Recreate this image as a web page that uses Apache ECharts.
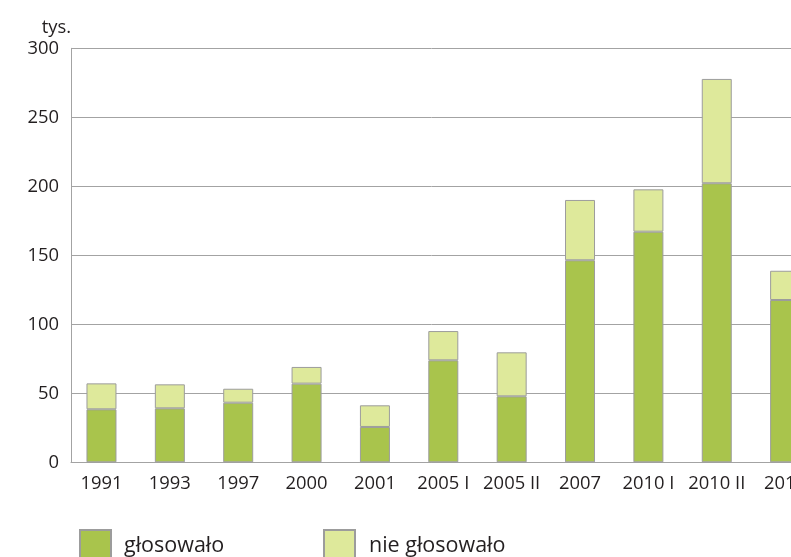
<!DOCTYPE html>
<html>
<head>
<meta charset="utf-8">
<script src="https://cdn.jsdelivr.net/npm/echarts@6/dist/echarts.min.js"></script>
<style>
  html, body { margin: 0; padding: 0; background: #fff; }
  #chart { width: 791px; height: 557px; }
</style>
</head>
<body>
<div id="chart"></div>
<script>
// Voting turnout by election (thousands)
const categories = ['1991', '1993', '1997', '2000', '2001', '2005 I', '2005 II', '2007', '2010 I', '2010 II', '2011'];
const voted =    [38.4, 39.1, 43.2, 57.0, 25.6, 73.9, 47.8, 146.4, 167.1, 202.2, 117.6];
const notVoted = [18.8, 17.4, 10.1, 12.1, 15.7, 21.2, 31.9,  43.7,  30.7,  75.6,  21.2];
const seriesNames = ['głosowało', 'nie głosowało'];
const yMin = 0, yMax = 300, yStep = 50;

const FONT = '"Open Sans", "DejaVu Sans", sans-serif';
const TEXT = '#231f20';
const LINE = '#a3a3a3';
const BORDER = '#9c9c9c';
const GREEN = '#a9c44c';
const LIGHT = '#dee99b';

const chart = echarts.init(document.getElementById('chart'), null, { renderer: 'canvas' });

const plotTop = 48.3, plotHeight = 414;

chart.setOption({
  animation: false,
  backgroundColor: '#fff',
  textStyle: { fontFamily: FONT },
  grid: [
    // frame: y axis, gridlines and baseline
    { left: 71, top: plotTop, width: 760, height: plotHeight, outerBoundsMode: 'none', containLabel: false },
    // bars and category labels (the last column runs past the right edge)
    { left: 67.3, top: plotTop, width: 752, height: plotHeight, outerBoundsMode: 'none', containLabel: false }
  ],
  xAxis: [
    {
      gridIndex: 0, type: 'value', min: 0, max: 1,
      axisLine: { show: true, lineStyle: { color: LINE, width: 1 } },
      axisTick: { show: false }, axisLabel: { show: false }, splitLine: { show: false }
    },
    {
      gridIndex: 1, type: 'category', data: categories,
      axisLine: { show: false }, axisTick: { show: false },
      axisLabel: { interval: 0, margin: 12, color: TEXT, fontSize: 18.4, fontFamily: FONT, hideOverlap: false }
    }
  ],
  yAxis: [
    {
      gridIndex: 0, type: 'value', min: yMin, max: yMax, interval: yStep,
      name: 'tys.', nameLocation: 'end', nameGap: 12,
      nameTextStyle: { color: TEXT, fontSize: 18.4, fontFamily: FONT, align: 'right', verticalAlign: 'bottom' },
      axisLine: { show: true, lineStyle: { color: LINE, width: 1 } },
      axisTick: { show: false },
      axisLabel: { margin: 12, color: TEXT, fontSize: 18.4, fontFamily: FONT },
      splitLine: { show: true, lineStyle: { color: LINE, width: 1 } }
    },
    { gridIndex: 1, type: 'value', min: yMin, max: yMax, show: false }
  ],
  legend: [
    {
      left: 79, top: 529, padding: 0, itemWidth: 31, itemHeight: 32, icon: 'rect',
      data: [seriesNames[0]],
      textStyle: { color: TEXT, fontSize: 21.5, fontFamily: FONT, padding: [0, 0, 0, 8] }
    },
    {
      left: 323, top: 529, padding: 0, itemWidth: 31, itemHeight: 32, icon: 'rect',
      data: [seriesNames[1]],
      textStyle: { color: TEXT, fontSize: 21.5, fontFamily: FONT, padding: [0, 0, 0, 9] }
    }
  ],
  series: [
    {
      name: seriesNames[0], type: 'bar', stack: 'total', xAxisIndex: 1, yAxisIndex: 1,
      barWidth: 30, data: voted,
      itemStyle: { color: GREEN, borderColor: BORDER, borderWidth: 1 }
    },
    {
      name: seriesNames[1], type: 'bar', stack: 'total', xAxisIndex: 1, yAxisIndex: 1,
      barWidth: 30, data: notVoted,
      itemStyle: { color: LIGHT, borderColor: BORDER, borderWidth: 1 }
    }
  ]
});
</script>
</body>
</html>
